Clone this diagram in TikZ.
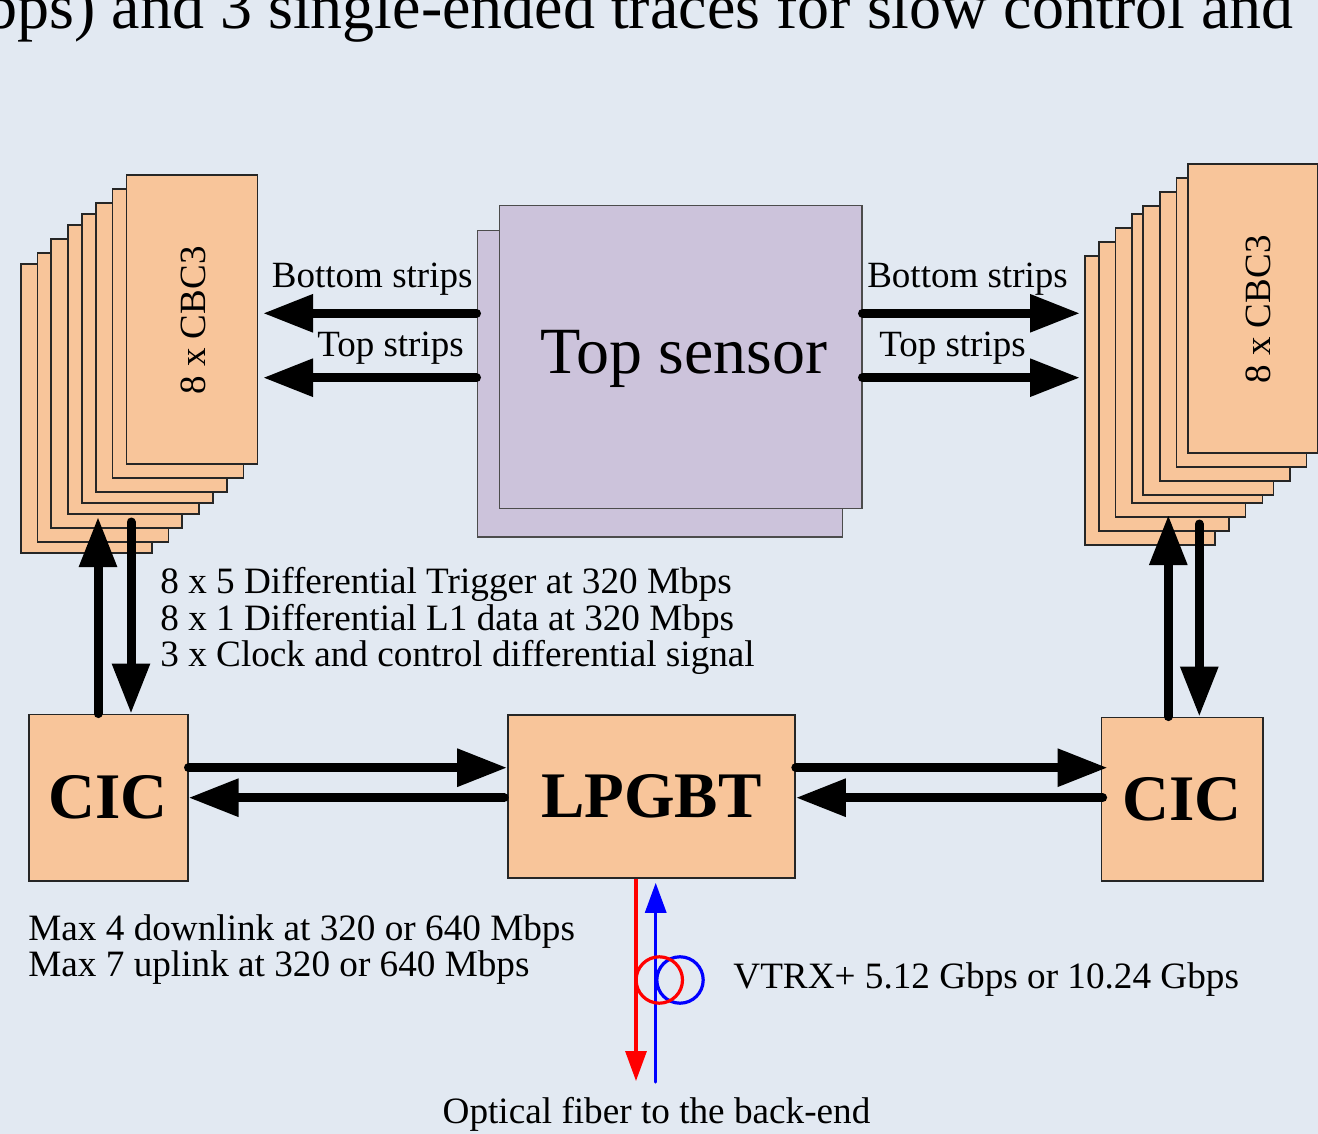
\documentclass[tikz,border=0pt]{standalone}
\usepackage{fontspec}
\setmainfont{Liberation Serif}
\usepackage{xcolor}
\usetikzlibrary{arrows.meta}
\usetikzlibrary{positioning}

\definecolor{bgblue}{HTML}{E2E9F2}
\definecolor{chipfill}{HTML}{F8C59A}
\definecolor{sensorfill}{HTML}{CCC3DB}

\tikzset{
  chip/.style={draw=black!85,line width=0.8pt,fill=chipfill},
  sensor/.style={draw=black!70,line width=0.8pt,fill=sensorfill},
  block/.style={chip,inner sep=0pt,font=\fontsize{32.5}{34}\selectfont\bfseries},
  bus/.style={line width=4.5pt,line cap=round,-{Triangle[length=25pt,width=18pt]}},
  fiber/.style={line width=1.6pt,-{Triangle[length=15pt,width=10.5pt]}},
  lbl/.style={font=\fontsize{18.5}{20}\selectfont,inner sep=0pt},
  txt/.style={font=\fontsize{18.6}{20}\selectfont,inner sep=0pt,anchor=base west}
}

\begin{document}
\begin{tikzpicture}[x=0.5pt,y=-0.5pt]
  \useasboundingbox (0,0) rectangle (1318,1134);
  \clip (0,0) rectangle (1318,1134);
  \fill[bgblue] (0,0) rectangle (1318,1134);

  % caption text cut by the frame
  \node[anchor=base east,inner sep=0pt,font=\fontsize{32}{34}\selectfont] (cap) at (1294,29)
    {bps) and 3 single-ended traces for slow control and};

  % CBC3 stacks
  \foreach \x/\y in {20.7/264,37.3/253,51/239,68/225,81.7/214,95.7/203,112.3/189,126.3/175}
    \draw[chip] (\x,\y) rectangle ++(131,289);
  \foreach \x/\y in {1084.7/256,1098.7/242,1115.3/228,1132/214,1143/206,1159.7/192,1176.3/178,1187.7/164}
    \draw[chip] (\x,\y) rectangle ++(130.3,289);
  \node[lbl,rotate=90,anchor=base] (cbcL) at (205,320.5) {8 x CBC3};
  \node[lbl,rotate=90,anchor=base] (cbcR) at (1270,309.5) {8 x CBC3};

  % sensor
  \node[sensor,minimum width=182.5pt,minimum height=153pt] (sensorB) at (659.8,383.7) {};
  \node[sensor,minimum width=181.2pt,minimum height=151.3pt] (sensorF) at (680.5,357) {};
  \node[inner sep=0pt,anchor=base,font=\fontsize{33}{35}\selectfont] (sname) at (683.7,373.3) {Top sensor};

  % strips
  \coordinate (botL) at (263,313.3);
  \coordinate (topL) at (263,377.7);
  \coordinate (botR) at (1080,313.3);
  \coordinate (topR) at (1080,377.7);
  \draw[bus] (sensorB.west |- botL) -- (botL);
  \draw[bus] (sensorB.west |- topL) -- (topL);
  \draw[bus] (sensorF.east |- botR) -- (botR);
  \draw[bus] (sensorF.east |- topR) -- (topR);
  \node[lbl,anchor=base] (bsL) at (372.2,287.7) {Bottom strips};
  \node[lbl,anchor=base] (tsL) at (390.5,357) {Top strips};
  \node[lbl,anchor=base] (bsR) at (967.5,287.7) {Bottom strips};
  \node[lbl,anchor=base] (tsR) at (952.5,357) {Top strips};

  % front-end blocks
  \node[block,minimum width=79.5pt,minimum height=83.3pt] (cicL) at (108.2,797.7) {CIC};
  \node[block,minimum width=143.5pt,minimum height=81.5pt] (lpgbt) at (651.5,796.5) {LPGBT};
  \node[block,minimum width=80.8pt,minimum height=81.8pt] (cicR) at (1182.2,799.2) {CIC};

  % CIC <-> CBC3
  \coordinate (upL) at (98,517);
  \coordinate (dnL) at (131,522);
  \coordinate (upR) at (1168.3,515);
  \coordinate (dnR) at (1199.3,524);
  \draw[bus] (cicL.north -| upL) -- (upL);
  \draw[bus] (dnL) -- (cicL.north -| dnL);
  \draw[bus] (cicR.north -| upR) -- (upR);
  \draw[bus] (dnR) -- (cicR.north -| dnR);

  % CIC <-> LPGBT
  \draw[bus] ([yshift=15pt]cicL.east) -- ([yshift=15pt]lpgbt.west |- cicL.east);
  \draw[bus] ([xshift=-1.5pt]lpgbt.west |- cicL.east) -- (cicL.east);
  \draw[bus] ([yshift=15pt]lpgbt.east |- cicL.east) -- ([yshift=15pt,xshift=3.5pt]cicR.west |- cicL.east);
  \draw[bus] ([xshift=1pt]cicR.west |- cicL.east) -- (lpgbt.east |- cicL.east);

  \node[txt] (t1) at (160,593.3) {8 x 5 Differential Trigger at 320 Mbps};
  \node[txt] (t2) at (160,630) {8 x 1 Differential L1 data at 320 Mbps};
  \node[txt] (t3) at (160,666.7) {3 x Clock and control differential signal};
  \node[txt] (m1) at (28,940) {Max 4 downlink at 320 or 640 Mbps};
  \node[txt] (m2) at (28,976.7) {Max 7 uplink at 320 or 640 Mbps};

  % optical link
  \coordinate (redEnd) at (636,1081);
  \coordinate (blueEnd) at (655.7,1082);
  \draw[blue,line width=1.6pt] (680,980) circle[radius=11.6pt];
  \draw[fiber,blue,line cap=round] (blueEnd) -- ([yshift=-2pt]lpgbt.south -| blueEnd);
  \draw[red,line width=1.6pt] (659.3,980) circle[radius=11.6pt];
  \draw[fiber,red] (lpgbt.south -| redEnd) -- (redEnd);
  \node[txt] (vtrx) at (733,988) {VTRX+ 5.12 Gbps or 10.24 Gbps};
  \node[txt,anchor=base] (fib) at (656.5,1123) {Optical fiber to the back-end};
\end{tikzpicture}
\end{document}
